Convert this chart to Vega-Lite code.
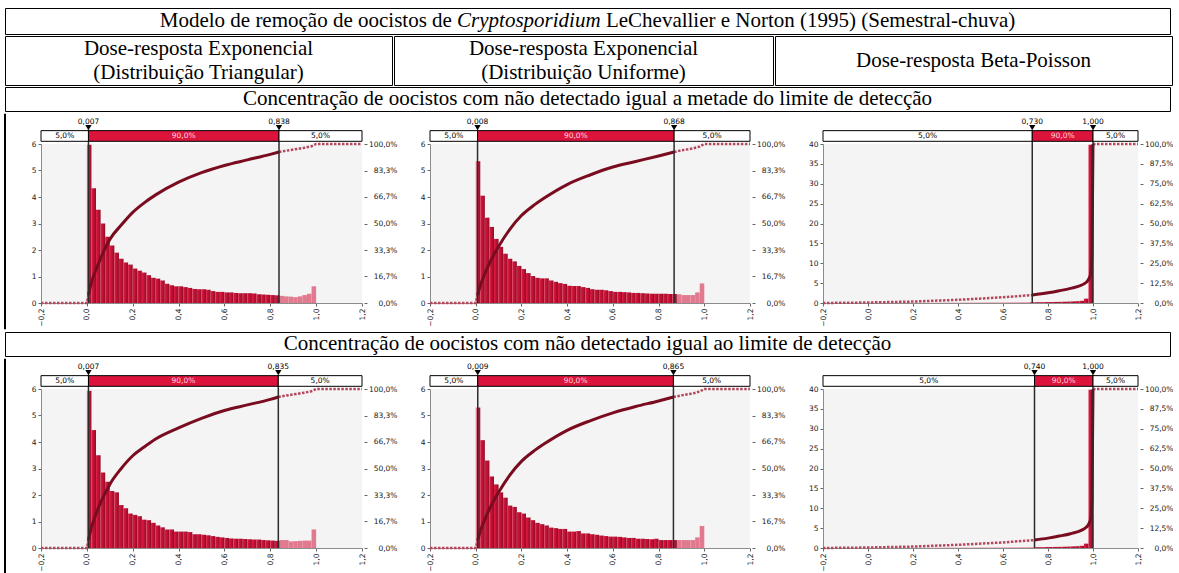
{
  "$schema": "https://vega.github.io/schema/vega-lite/v6.json",
  "padding": {"left": 4, "top": 7, "right": 0, "bottom": 0},
  "columns": 1,
  "align": "none",
  "spacing": 0,
  "config": {
    "view": {"stroke": null},
    "font": "DejaVu Sans",
    "axis": {"labelFont": "DejaVu Sans", "labelFontSize": 7.5, "labelColor": "#1a1a1a", "grid": false, "domainColor": "#8c8c8c", "tickColor": "#666666", "tickSize": 3, "labelPadding": 2},
    "axisX": {"labelAngle": -90, "labelFlush": false, "labelOverlap": false, "labelExpr": "replace(format(datum.value, '.1f'), '.', ',')"},
    "axisLeft": {"labelFlush": false, "labelOverlap": false, "format": "d"},
    "axisRight": {"domain": false, "offset": 2, "labelPadding": 30, "labelAlign": "right", "labelFlush": false, "labelOverlap": false, "labelExpr": "replace(format(datum.value, '.1%'), '.', ',')"}
  },
  "datasets": {
    "hA1": [
      {"a":0,"b":0.007,"d":5.97,"r":"t"},{"a":0.007,"b":0.02,"d":5.97,"r":"m"},{"a":0.02,"b":0.04,"d":4.33,"r":"m"},{"a":0.04,"b":0.06,"d":3.52,"r":"m"},{"a":0.06,"b":0.08,"d":3.0,"r":"m"},{"a":0.08,"b":0.1,"d":2.5,"r":"m"},{"a":0.1,"b":0.12,"d":2.17,"r":"m"},{"a":0.12,"b":0.14,"d":1.9,"r":"m"},{"a":0.14,"b":0.16,"d":1.67,"r":"m"},{"a":0.16,"b":0.18,"d":1.53,"r":"m"},{"a":0.18,"b":0.2,"d":1.45,"r":"m"},
      {"a":0.2,"b":0.22,"d":1.3,"r":"m"},{"a":0.22,"b":0.24,"d":1.22,"r":"m"},{"a":0.24,"b":0.26,"d":1.15,"r":"m"},{"a":0.26,"b":0.28,"d":1.05,"r":"m"},{"a":0.28,"b":0.3,"d":0.95,"r":"m"},{"a":0.3,"b":0.32,"d":0.92,"r":"m"},{"a":0.32,"b":0.34,"d":0.85,"r":"m"},{"a":0.34,"b":0.36,"d":0.73,"r":"m"},{"a":0.36,"b":0.38,"d":0.67,"r":"m"},{"a":0.38,"b":0.4,"d":0.63,"r":"m"},
      {"a":0.4,"b":0.42,"d":0.63,"r":"m"},{"a":0.42,"b":0.44,"d":0.6,"r":"m"},{"a":0.44,"b":0.46,"d":0.57,"r":"m"},{"a":0.46,"b":0.48,"d":0.53,"r":"m"},{"a":0.48,"b":0.5,"d":0.52,"r":"m"},{"a":0.5,"b":0.52,"d":0.52,"r":"m"},{"a":0.52,"b":0.54,"d":0.5,"r":"m"},{"a":0.54,"b":0.56,"d":0.45,"r":"m"},{"a":0.56,"b":0.58,"d":0.42,"r":"m"},{"a":0.58,"b":0.6,"d":0.42,"r":"m"},
      {"a":0.6,"b":0.62,"d":0.4,"r":"m"},{"a":0.62,"b":0.64,"d":0.4,"r":"m"},{"a":0.64,"b":0.66,"d":0.38,"r":"m"},{"a":0.66,"b":0.68,"d":0.37,"r":"m"},{"a":0.68,"b":0.7,"d":0.37,"r":"m"},{"a":0.7,"b":0.72,"d":0.37,"r":"m"},{"a":0.72,"b":0.74,"d":0.36,"r":"m"},{"a":0.74,"b":0.76,"d":0.33,"r":"m"},{"a":0.76,"b":0.78,"d":0.32,"r":"m"},{"a":0.78,"b":0.8,"d":0.31,"r":"m"},
      {"a":0.8,"b":0.82,"d":0.3,"r":"m"},{"a":0.82,"b":0.84,"d":0.29,"r":"m"},{"a":0.84,"b":0.86,"d":0.27,"r":"t"},{"a":0.86,"b":0.88,"d":0.25,"r":"t"},{"a":0.88,"b":0.9,"d":0.24,"r":"t"},{"a":0.9,"b":0.92,"d":0.22,"r":"t"},{"a":0.92,"b":0.94,"d":0.25,"r":"t"},{"a":0.94,"b":0.96,"d":0.3,"r":"t"},{"a":0.96,"b":0.98,"d":0.35,"r":"t"},{"a":0.98,"b":1,"d":0.63,"r":"t"}
    ],
    "hB1": [
      {"a":0,"b":0.008,"d":5.35,"r":"t"},{"a":0.008,"b":0.02,"d":5.35,"r":"m"},{"a":0.02,"b":0.04,"d":4.05,"r":"m"},{"a":0.04,"b":0.06,"d":3.22,"r":"m"},{"a":0.06,"b":0.08,"d":2.87,"r":"m"},{"a":0.08,"b":0.1,"d":2.42,"r":"m"},{"a":0.1,"b":0.12,"d":2.12,"r":"m"},{"a":0.12,"b":0.14,"d":1.86,"r":"m"},{"a":0.14,"b":0.16,"d":1.67,"r":"m"},{"a":0.16,"b":0.18,"d":1.57,"r":"m"},{"a":0.18,"b":0.2,"d":1.4,"r":"m"},
      {"a":0.2,"b":0.22,"d":1.28,"r":"m"},{"a":0.22,"b":0.24,"d":1.13,"r":"m"},{"a":0.24,"b":0.26,"d":1.02,"r":"m"},{"a":0.26,"b":0.28,"d":0.95,"r":"m"},{"a":0.28,"b":0.3,"d":0.93,"r":"m"},{"a":0.3,"b":0.32,"d":0.93,"r":"m"},{"a":0.32,"b":0.34,"d":0.85,"r":"m"},{"a":0.34,"b":0.36,"d":0.8,"r":"m"},{"a":0.36,"b":0.38,"d":0.75,"r":"m"},{"a":0.38,"b":0.4,"d":0.72,"r":"m"},
      {"a":0.4,"b":0.42,"d":0.65,"r":"m"},{"a":0.42,"b":0.44,"d":0.64,"r":"m"},{"a":0.44,"b":0.46,"d":0.64,"r":"m"},{"a":0.46,"b":0.48,"d":0.6,"r":"m"},{"a":0.48,"b":0.5,"d":0.57,"r":"m"},{"a":0.5,"b":0.52,"d":0.52,"r":"m"},{"a":0.52,"b":0.54,"d":0.5,"r":"m"},{"a":0.54,"b":0.56,"d":0.5,"r":"m"},{"a":0.56,"b":0.58,"d":0.48,"r":"m"},{"a":0.58,"b":0.6,"d":0.45,"r":"m"},
      {"a":0.6,"b":0.62,"d":0.42,"r":"m"},{"a":0.62,"b":0.64,"d":0.42,"r":"m"},{"a":0.64,"b":0.66,"d":0.41,"r":"m"},{"a":0.66,"b":0.68,"d":0.4,"r":"m"},{"a":0.68,"b":0.7,"d":0.38,"r":"m"},{"a":0.7,"b":0.72,"d":0.38,"r":"m"},{"a":0.72,"b":0.74,"d":0.37,"r":"m"},{"a":0.74,"b":0.76,"d":0.36,"r":"m"},{"a":0.76,"b":0.78,"d":0.35,"r":"m"},{"a":0.78,"b":0.8,"d":0.35,"r":"m"},
      {"a":0.8,"b":0.82,"d":0.35,"r":"m"},{"a":0.82,"b":0.84,"d":0.35,"r":"m"},{"a":0.84,"b":0.86,"d":0.34,"r":"m"},{"a":0.86,"b":0.88,"d":0.34,"r":"m"},{"a":0.88,"b":0.9,"d":0.33,"r":"t"},{"a":0.9,"b":0.92,"d":0.3,"r":"t"},{"a":0.92,"b":0.94,"d":0.3,"r":"t"},{"a":0.94,"b":0.96,"d":0.3,"r":"t"},{"a":0.96,"b":0.98,"d":0.4,"r":"t"},{"a":0.98,"b":1,"d":0.74,"r":"t"}
    ],
    "hC1": [
      {"a":0,"b":0.02,"d":0.02,"r":"t"},{"a":0.02,"b":0.04,"d":0.02,"r":"t"},{"a":0.04,"b":0.06,"d":0.03,"r":"t"},{"a":0.06,"b":0.08,"d":0.03,"r":"t"},{"a":0.08,"b":0.1,"d":0.03,"r":"t"},{"a":0.1,"b":0.12,"d":0.03,"r":"t"},{"a":0.12,"b":0.14,"d":0.04,"r":"t"},{"a":0.14,"b":0.16,"d":0.04,"r":"t"},{"a":0.16,"b":0.18,"d":0.04,"r":"t"},{"a":0.18,"b":0.2,"d":0.04,"r":"t"},
      {"a":0.2,"b":0.22,"d":0.05,"r":"t"},{"a":0.22,"b":0.24,"d":0.05,"r":"t"},{"a":0.24,"b":0.26,"d":0.05,"r":"t"},{"a":0.26,"b":0.28,"d":0.05,"r":"t"},{"a":0.28,"b":0.3,"d":0.06,"r":"t"},{"a":0.3,"b":0.32,"d":0.06,"r":"t"},{"a":0.32,"b":0.34,"d":0.06,"r":"t"},{"a":0.34,"b":0.36,"d":0.07,"r":"t"},{"a":0.36,"b":0.38,"d":0.07,"r":"t"},{"a":0.38,"b":0.4,"d":0.07,"r":"t"},
      {"a":0.4,"b":0.42,"d":0.08,"r":"t"},{"a":0.42,"b":0.44,"d":0.08,"r":"t"},{"a":0.44,"b":0.46,"d":0.08,"r":"t"},{"a":0.46,"b":0.48,"d":0.09,"r":"t"},{"a":0.48,"b":0.5,"d":0.09,"r":"t"},{"a":0.5,"b":0.52,"d":0.1,"r":"t"},{"a":0.52,"b":0.54,"d":0.1,"r":"t"},{"a":0.54,"b":0.56,"d":0.11,"r":"t"},{"a":0.56,"b":0.58,"d":0.11,"r":"t"},{"a":0.58,"b":0.6,"d":0.12,"r":"t"},
      {"a":0.6,"b":0.62,"d":0.12,"r":"t"},{"a":0.62,"b":0.64,"d":0.13,"r":"t"},{"a":0.64,"b":0.66,"d":0.14,"r":"t"},{"a":0.66,"b":0.68,"d":0.15,"r":"t"},{"a":0.68,"b":0.7,"d":0.16,"r":"t"},{"a":0.7,"b":0.72,"d":0.17,"r":"t"},{"a":0.72,"b":0.74,"d":0.18,"r":"m"},{"a":0.74,"b":0.76,"d":0.2,"r":"m"},{"a":0.76,"b":0.78,"d":0.21,"r":"m"},{"a":0.78,"b":0.8,"d":0.23,"r":"m"},
      {"a":0.8,"b":0.82,"d":0.25,"r":"m"},{"a":0.82,"b":0.84,"d":0.27,"r":"m"},{"a":0.84,"b":0.86,"d":0.29,"r":"m"},{"a":0.86,"b":0.88,"d":0.32,"r":"m"},{"a":0.88,"b":0.9,"d":0.35,"r":"m"},{"a":0.9,"b":0.92,"d":0.4,"r":"m"},{"a":0.92,"b":0.94,"d":0.45,"r":"m"},{"a":0.94,"b":0.96,"d":0.55,"r":"m"},{"a":0.96,"b":0.98,"d":1.1,"r":"m"},{"a":0.98,"b":1,"d":39.8,"r":"m"}
    ],
    "hA2": [
      {"a":0,"b":0.007,"d":5.93,"r":"t"},{"a":0.007,"b":0.02,"d":5.93,"r":"m"},{"a":0.02,"b":0.04,"d":4.45,"r":"m"},{"a":0.04,"b":0.06,"d":3.5,"r":"m"},{"a":0.06,"b":0.08,"d":2.85,"r":"m"},{"a":0.08,"b":0.1,"d":2.5,"r":"m"},{"a":0.1,"b":0.12,"d":2.15,"r":"m"},{"a":0.12,"b":0.14,"d":2.1,"r":"m"},{"a":0.14,"b":0.16,"d":1.62,"r":"m"},{"a":0.16,"b":0.18,"d":1.5,"r":"m"},{"a":0.18,"b":0.2,"d":1.3,"r":"m"},
      {"a":0.2,"b":0.22,"d":1.25,"r":"m"},{"a":0.22,"b":0.24,"d":1.2,"r":"m"},{"a":0.24,"b":0.26,"d":1.07,"r":"m"},{"a":0.26,"b":0.28,"d":1.05,"r":"m"},{"a":0.28,"b":0.3,"d":0.95,"r":"m"},{"a":0.3,"b":0.32,"d":0.85,"r":"m"},{"a":0.32,"b":0.34,"d":0.78,"r":"m"},{"a":0.34,"b":0.36,"d":0.7,"r":"m"},{"a":0.36,"b":0.38,"d":0.7,"r":"m"},{"a":0.38,"b":0.4,"d":0.62,"r":"m"},
      {"a":0.4,"b":0.42,"d":0.62,"r":"m"},{"a":0.42,"b":0.44,"d":0.62,"r":"m"},{"a":0.44,"b":0.46,"d":0.6,"r":"m"},{"a":0.46,"b":0.48,"d":0.52,"r":"m"},{"a":0.48,"b":0.5,"d":0.52,"r":"m"},{"a":0.5,"b":0.52,"d":0.5,"r":"m"},{"a":0.52,"b":0.54,"d":0.48,"r":"m"},{"a":0.54,"b":0.56,"d":0.45,"r":"m"},{"a":0.56,"b":0.58,"d":0.42,"r":"m"},{"a":0.58,"b":0.6,"d":0.4,"r":"m"},
      {"a":0.6,"b":0.62,"d":0.38,"r":"m"},{"a":0.62,"b":0.64,"d":0.36,"r":"m"},{"a":0.64,"b":0.66,"d":0.35,"r":"m"},{"a":0.66,"b":0.68,"d":0.35,"r":"m"},{"a":0.68,"b":0.7,"d":0.34,"r":"m"},{"a":0.7,"b":0.72,"d":0.33,"r":"m"},{"a":0.72,"b":0.74,"d":0.32,"r":"m"},{"a":0.74,"b":0.76,"d":0.32,"r":"m"},{"a":0.76,"b":0.78,"d":0.3,"r":"m"},{"a":0.78,"b":0.8,"d":0.29,"r":"m"},
      {"a":0.8,"b":0.82,"d":0.28,"r":"m"},{"a":0.82,"b":0.84,"d":0.27,"r":"m"},{"a":0.84,"b":0.86,"d":0.3,"r":"t"},{"a":0.86,"b":0.88,"d":0.3,"r":"t"},{"a":0.88,"b":0.9,"d":0.25,"r":"t"},{"a":0.9,"b":0.92,"d":0.26,"r":"t"},{"a":0.92,"b":0.94,"d":0.27,"r":"t"},{"a":0.94,"b":0.96,"d":0.28,"r":"t"},{"a":0.96,"b":0.98,"d":0.28,"r":"t"},{"a":0.98,"b":1,"d":0.7,"r":"t"}
    ],
    "hB2": [
      {"a":0,"b":0.009,"d":5.3,"r":"t"},{"a":0.009,"b":0.02,"d":5.3,"r":"m"},{"a":0.02,"b":0.04,"d":4.07,"r":"m"},{"a":0.04,"b":0.06,"d":3.3,"r":"m"},{"a":0.06,"b":0.08,"d":2.7,"r":"m"},{"a":0.08,"b":0.1,"d":2.4,"r":"m"},{"a":0.1,"b":0.12,"d":2.1,"r":"m"},{"a":0.12,"b":0.14,"d":1.9,"r":"m"},{"a":0.14,"b":0.16,"d":1.6,"r":"m"},{"a":0.16,"b":0.18,"d":1.55,"r":"m"},{"a":0.18,"b":0.2,"d":1.35,"r":"m"},
      {"a":0.2,"b":0.22,"d":1.3,"r":"m"},{"a":0.22,"b":0.24,"d":1.15,"r":"m"},{"a":0.24,"b":0.26,"d":1.05,"r":"m"},{"a":0.26,"b":0.28,"d":0.95,"r":"m"},{"a":0.28,"b":0.3,"d":0.9,"r":"m"},{"a":0.3,"b":0.32,"d":0.85,"r":"m"},{"a":0.32,"b":0.34,"d":0.77,"r":"m"},{"a":0.34,"b":0.36,"d":0.75,"r":"m"},{"a":0.36,"b":0.38,"d":0.72,"r":"m"},{"a":0.38,"b":0.4,"d":0.72,"r":"m"},
      {"a":0.4,"b":0.42,"d":0.62,"r":"m"},{"a":0.42,"b":0.44,"d":0.62,"r":"m"},{"a":0.44,"b":0.46,"d":0.64,"r":"m"},{"a":0.46,"b":0.48,"d":0.55,"r":"m"},{"a":0.48,"b":0.5,"d":0.55,"r":"m"},{"a":0.5,"b":0.52,"d":0.52,"r":"m"},{"a":0.52,"b":0.54,"d":0.5,"r":"m"},{"a":0.54,"b":0.56,"d":0.47,"r":"m"},{"a":0.56,"b":0.58,"d":0.45,"r":"m"},{"a":0.58,"b":0.6,"d":0.43,"r":"m"},
      {"a":0.6,"b":0.62,"d":0.43,"r":"m"},{"a":0.62,"b":0.64,"d":0.42,"r":"m"},{"a":0.64,"b":0.66,"d":0.4,"r":"m"},{"a":0.66,"b":0.68,"d":0.38,"r":"m"},{"a":0.68,"b":0.7,"d":0.38,"r":"m"},{"a":0.7,"b":0.72,"d":0.35,"r":"m"},{"a":0.72,"b":0.74,"d":0.35,"r":"m"},{"a":0.74,"b":0.76,"d":0.34,"r":"m"},{"a":0.76,"b":0.78,"d":0.33,"r":"m"},{"a":0.78,"b":0.8,"d":0.35,"r":"m"},
      {"a":0.8,"b":0.82,"d":0.3,"r":"m"},{"a":0.82,"b":0.84,"d":0.3,"r":"m"},{"a":0.84,"b":0.86,"d":0.3,"r":"m"},{"a":0.86,"b":0.88,"d":0.3,"r":"m"},{"a":0.88,"b":0.9,"d":0.3,"r":"t"},{"a":0.9,"b":0.92,"d":0.3,"r":"t"},{"a":0.92,"b":0.94,"d":0.3,"r":"t"},{"a":0.94,"b":0.96,"d":0.3,"r":"t"},{"a":0.96,"b":0.98,"d":0.4,"r":"t"},{"a":0.98,"b":1,"d":0.83,"r":"t"}
    ],
    "hC2": [
      {"a":0,"b":0.02,"d":0.02,"r":"t"},{"a":0.02,"b":0.04,"d":0.02,"r":"t"},{"a":0.04,"b":0.06,"d":0.03,"r":"t"},{"a":0.06,"b":0.08,"d":0.03,"r":"t"},{"a":0.08,"b":0.1,"d":0.03,"r":"t"},{"a":0.1,"b":0.12,"d":0.03,"r":"t"},{"a":0.12,"b":0.14,"d":0.04,"r":"t"},{"a":0.14,"b":0.16,"d":0.04,"r":"t"},{"a":0.16,"b":0.18,"d":0.04,"r":"t"},{"a":0.18,"b":0.2,"d":0.04,"r":"t"},
      {"a":0.2,"b":0.22,"d":0.05,"r":"t"},{"a":0.22,"b":0.24,"d":0.05,"r":"t"},{"a":0.24,"b":0.26,"d":0.05,"r":"t"},{"a":0.26,"b":0.28,"d":0.05,"r":"t"},{"a":0.28,"b":0.3,"d":0.06,"r":"t"},{"a":0.3,"b":0.32,"d":0.06,"r":"t"},{"a":0.32,"b":0.34,"d":0.06,"r":"t"},{"a":0.34,"b":0.36,"d":0.07,"r":"t"},{"a":0.36,"b":0.38,"d":0.07,"r":"t"},{"a":0.38,"b":0.4,"d":0.07,"r":"t"},
      {"a":0.4,"b":0.42,"d":0.08,"r":"t"},{"a":0.42,"b":0.44,"d":0.08,"r":"t"},{"a":0.44,"b":0.46,"d":0.08,"r":"t"},{"a":0.46,"b":0.48,"d":0.09,"r":"t"},{"a":0.48,"b":0.5,"d":0.09,"r":"t"},{"a":0.5,"b":0.52,"d":0.1,"r":"t"},{"a":0.52,"b":0.54,"d":0.1,"r":"t"},{"a":0.54,"b":0.56,"d":0.11,"r":"t"},{"a":0.56,"b":0.58,"d":0.11,"r":"t"},{"a":0.58,"b":0.6,"d":0.12,"r":"t"},
      {"a":0.6,"b":0.62,"d":0.12,"r":"t"},{"a":0.62,"b":0.64,"d":0.13,"r":"t"},{"a":0.64,"b":0.66,"d":0.14,"r":"t"},{"a":0.66,"b":0.68,"d":0.15,"r":"t"},{"a":0.68,"b":0.7,"d":0.16,"r":"t"},{"a":0.7,"b":0.72,"d":0.17,"r":"t"},{"a":0.72,"b":0.74,"d":0.18,"r":"t"},{"a":0.74,"b":0.76,"d":0.2,"r":"m"},{"a":0.76,"b":0.78,"d":0.21,"r":"m"},{"a":0.78,"b":0.8,"d":0.23,"r":"m"},
      {"a":0.8,"b":0.82,"d":0.25,"r":"m"},{"a":0.82,"b":0.84,"d":0.27,"r":"m"},{"a":0.84,"b":0.86,"d":0.29,"r":"m"},{"a":0.86,"b":0.88,"d":0.32,"r":"m"},{"a":0.88,"b":0.9,"d":0.35,"r":"m"},{"a":0.9,"b":0.92,"d":0.4,"r":"m"},{"a":0.92,"b":0.94,"d":0.45,"r":"m"},{"a":0.94,"b":0.96,"d":0.55,"r":"m"},{"a":0.96,"b":0.98,"d":1.1,"r":"m"},{"a":0.98,"b":1,"d":39.8,"r":"m"}
    ],
    "cA1": [
      {"x":-0.2,"c":0,"r":"lo"},{"x":0,"c":0,"r":"lo"},{"x":0.007,"c":0.05,"r":"lo"},
      {"x":0.007,"c":0.05,"r":"m"},{"x":0.02,"c":0.13,"r":"m"},{"x":0.04,"c":0.21,"r":"m"},{"x":0.06,"c":0.28,"r":"m"},{"x":0.08,"c":0.345,"r":"m"},{"x":0.1,"c":0.4,"r":"m"},{"x":0.15,"c":0.49,"r":"m"},{"x":0.2,"c":0.57,"r":"m"},{"x":0.25,"c":0.63,"r":"m"},{"x":0.3,"c":0.68,"r":"m"},{"x":0.4,"c":0.76,"r":"m"},{"x":0.5,"c":0.82,"r":"m"},{"x":0.6,"c":0.865,"r":"m"},{"x":0.7,"c":0.9,"r":"m"},{"x":0.8,"c":0.935,"r":"m"},{"x":0.838,"c":0.95,"r":"m"},
      {"x":0.838,"c":0.95,"r":"hi"},{"x":0.9,"c":0.965,"r":"hi"},{"x":0.95,"c":0.977,"r":"hi"},{"x":0.98,"c":0.986,"r":"hi"},{"x":1,"c":1,"r":"hi"},{"x":1.2,"c":1,"r":"hi"}
    ],
    "cB1": [
      {"x":-0.2,"c":0,"r":"lo"},{"x":0,"c":0,"r":"lo"},{"x":0.008,"c":0.05,"r":"lo"},
      {"x":0.008,"c":0.05,"r":"m"},{"x":0.02,"c":0.11,"r":"m"},{"x":0.04,"c":0.185,"r":"m"},{"x":0.06,"c":0.25,"r":"m"},{"x":0.08,"c":0.305,"r":"m"},{"x":0.1,"c":0.355,"r":"m"},{"x":0.15,"c":0.465,"r":"m"},{"x":0.2,"c":0.55,"r":"m"},{"x":0.25,"c":0.61,"r":"m"},{"x":0.3,"c":0.66,"r":"m"},{"x":0.4,"c":0.745,"r":"m"},{"x":0.5,"c":0.805,"r":"m"},{"x":0.6,"c":0.855,"r":"m"},{"x":0.7,"c":0.89,"r":"m"},{"x":0.8,"c":0.925,"r":"m"},{"x":0.868,"c":0.95,"r":"m"},
      {"x":0.868,"c":0.95,"r":"hi"},{"x":0.9,"c":0.96,"r":"hi"},{"x":0.95,"c":0.972,"r":"hi"},{"x":0.98,"c":0.984,"r":"hi"},{"x":1,"c":1,"r":"hi"},{"x":1.2,"c":1,"r":"hi"}
    ],
    "cC1": [
      {"x":-0.2,"c":0,"r":"lo"},{"x":0,"c":0.003,"r":"lo"},{"x":0.2,"c":0.009,"r":"lo"},{"x":0.4,"c":0.02,"r":"lo"},{"x":0.6,"c":0.036,"r":"lo"},{"x":0.73,"c":0.05,"r":"lo"},
      {"x":0.73,"c":0.05,"r":"m"},{"x":0.8,"c":0.064,"r":"m"},{"x":0.85,"c":0.077,"r":"m"},{"x":0.9,"c":0.092,"r":"m"},{"x":0.95,"c":0.113,"r":"m"},{"x":0.97,"c":0.13,"r":"m"},{"x":0.98,"c":0.148,"r":"m"},{"x":0.99,"c":0.185,"r":"m"},{"x":0.995,"c":0.3,"r":"m"},{"x":0.998,"c":0.7,"r":"m"},{"x":1,"c":1,"r":"m"},
      {"x":1,"c":1,"r":"hi"},{"x":1.2,"c":1,"r":"hi"}
    ],
    "cA2": [
      {"x":-0.2,"c":0,"r":"lo"},{"x":0,"c":0,"r":"lo"},{"x":0.007,"c":0.05,"r":"lo"},
      {"x":0.007,"c":0.05,"r":"m"},{"x":0.02,"c":0.13,"r":"m"},{"x":0.04,"c":0.215,"r":"m"},{"x":0.06,"c":0.285,"r":"m"},{"x":0.08,"c":0.345,"r":"m"},{"x":0.1,"c":0.4,"r":"m"},{"x":0.15,"c":0.5,"r":"m"},{"x":0.2,"c":0.58,"r":"m"},{"x":0.25,"c":0.635,"r":"m"},{"x":0.3,"c":0.685,"r":"m"},{"x":0.4,"c":0.755,"r":"m"},{"x":0.5,"c":0.815,"r":"m"},{"x":0.6,"c":0.865,"r":"m"},{"x":0.7,"c":0.9,"r":"m"},{"x":0.8,"c":0.935,"r":"m"},{"x":0.835,"c":0.95,"r":"m"},
      {"x":0.835,"c":0.95,"r":"hi"},{"x":0.9,"c":0.966,"r":"hi"},{"x":0.95,"c":0.977,"r":"hi"},{"x":0.98,"c":0.986,"r":"hi"},{"x":1,"c":1,"r":"hi"},{"x":1.2,"c":1,"r":"hi"}
    ],
    "cB2": [
      {"x":-0.2,"c":0,"r":"lo"},{"x":0,"c":0,"r":"lo"},{"x":0.009,"c":0.05,"r":"lo"},
      {"x":0.009,"c":0.05,"r":"m"},{"x":0.02,"c":0.105,"r":"m"},{"x":0.04,"c":0.18,"r":"m"},{"x":0.06,"c":0.245,"r":"m"},{"x":0.08,"c":0.3,"r":"m"},{"x":0.1,"c":0.35,"r":"m"},{"x":0.15,"c":0.46,"r":"m"},{"x":0.2,"c":0.545,"r":"m"},{"x":0.25,"c":0.605,"r":"m"},{"x":0.3,"c":0.655,"r":"m"},{"x":0.4,"c":0.74,"r":"m"},{"x":0.5,"c":0.8,"r":"m"},{"x":0.6,"c":0.85,"r":"m"},{"x":0.7,"c":0.89,"r":"m"},{"x":0.8,"c":0.925,"r":"m"},{"x":0.865,"c":0.95,"r":"m"},
      {"x":0.865,"c":0.95,"r":"hi"},{"x":0.9,"c":0.96,"r":"hi"},{"x":0.95,"c":0.972,"r":"hi"},{"x":0.98,"c":0.984,"r":"hi"},{"x":1,"c":1,"r":"hi"},{"x":1.2,"c":1,"r":"hi"}
    ],
    "cC2": [
      {"x":-0.2,"c":0,"r":"lo"},{"x":0,"c":0.003,"r":"lo"},{"x":0.2,"c":0.009,"r":"lo"},{"x":0.4,"c":0.02,"r":"lo"},{"x":0.6,"c":0.035,"r":"lo"},{"x":0.74,"c":0.05,"r":"lo"},
      {"x":0.74,"c":0.05,"r":"m"},{"x":0.8,"c":0.062,"r":"m"},{"x":0.85,"c":0.075,"r":"m"},{"x":0.9,"c":0.09,"r":"m"},{"x":0.95,"c":0.112,"r":"m"},{"x":0.97,"c":0.13,"r":"m"},{"x":0.98,"c":0.148,"r":"m"},{"x":0.99,"c":0.185,"r":"m"},{"x":0.995,"c":0.3,"r":"m"},{"x":0.998,"c":0.7,"r":"m"},{"x":1,"c":1,"r":"m"},
      {"x":1,"c":1,"r":"hi"},{"x":1.2,"c":1,"r":"hi"}
    ],
    "sA1": [{"lo":-0.2,"hi":0.007,"lab":"5,0%","band":"t"},{"lo":0.007,"hi":0.838,"lab":"90,0%","band":"m"},{"lo":0.838,"hi":1.2,"lab":"5,0%","band":"t"}],
    "sB1": [{"lo":-0.2,"hi":0.008,"lab":"5,0%","band":"t"},{"lo":0.008,"hi":0.868,"lab":"90,0%","band":"m"},{"lo":0.868,"hi":1.2,"lab":"5,0%","band":"t"}],
    "sC1": [{"lo":-0.2,"hi":0.73,"lab":"5,0%","band":"t"},{"lo":0.73,"hi":1.0,"lab":"90,0%","band":"m"},{"lo":1.0,"hi":1.2,"lab":"5,0%","band":"t"}],
    "sA2": [{"lo":-0.2,"hi":0.007,"lab":"5,0%","band":"t"},{"lo":0.007,"hi":0.835,"lab":"90,0%","band":"m"},{"lo":0.835,"hi":1.2,"lab":"5,0%","band":"t"}],
    "sB2": [{"lo":-0.2,"hi":0.009,"lab":"5,0%","band":"t"},{"lo":0.009,"hi":0.865,"lab":"90,0%","band":"m"},{"lo":0.865,"hi":1.2,"lab":"5,0%","band":"t"}],
    "sC2": [{"lo":-0.2,"hi":0.74,"lab":"5,0%","band":"t"},{"lo":0.74,"hi":1.0,"lab":"90,0%","band":"m"},{"lo":1.0,"hi":1.2,"lab":"5,0%","band":"t"}],
    "mA1": [{"x":0.007,"lab":"0,007"},{"x":0.838,"lab":"0,838"}],
    "mB1": [{"x":0.008,"lab":"0,008"},{"x":0.868,"lab":"0,868"}],
    "mC1": [{"x":0.73,"lab":"0,730"},{"x":1.0,"lab":"1,000"}],
    "mA2": [{"x":0.007,"lab":"0,007"},{"x":0.835,"lab":"0,835"}],
    "mB2": [{"x":0.009,"lab":"0,009"},{"x":0.865,"lab":"0,865"}],
    "mC2": [{"x":0.74,"lab":"0,740"},{"x":1.0,"lab":"1,000"}]
  },
  "concat": [
    {
      "width": 1165, "height": 26,
      "view": {"stroke": "black", "strokeWidth": 1},
      "data": {"values": [{"pre": "Modelo de remoção de oocistos de", "gen": "Cryptosporidium", "post": "LeChevallier e Norton (1995) (Semestral-chuva)"}]},
      "layer": [
        {"mark": {"type": "text", "font": "Liberation Serif", "fontSize": 21, "color": "black", "align": "right", "dx": -135.6}, "encoding": {"text": {"field": "pre"}}},
        {"mark": {"type": "text", "font": "Liberation Serif", "fontSize": 21, "color": "black", "fontStyle": "italic", "align": "left", "dx": -130.4}, "encoding": {"text": {"field": "gen"}}},
        {"mark": {"type": "text", "font": "Liberation Serif", "fontSize": 21, "color": "black", "align": "left", "dx": 18.4}, "encoding": {"text": {"field": "post"}}}
      ]
    },
    {
      "spacing": 0,
      "hconcat": [
        {"width": 387, "height": 49, "view": {"stroke": "black", "strokeWidth": 1}, "data": {"values": [{"t": ["Dose-resposta Exponencial", "(Distribuição Triangular)"]}]}, "mark": {"type": "text", "font": "Liberation Serif", "fontSize": 21, "lineHeight": 24, "dy": -12, "color": "black"}, "encoding": {"text": {"field": "t"}}},
        {"width": 379, "height": 49, "view": {"stroke": "black", "strokeWidth": 1}, "data": {"values": [{"t": ["Dose-resposta Exponencial", "(Distribuição Uniforme)"]}]}, "mark": {"type": "text", "font": "Liberation Serif", "fontSize": 21, "lineHeight": 24, "dy": -12, "color": "black"}, "encoding": {"text": {"field": "t"}}},
        {"width": 397, "height": 49, "view": {"stroke": "black", "strokeWidth": 1}, "data": {"values": [{"t": "Dose-resposta Beta-Poisson"}]}, "mark": {"type": "text", "font": "Liberation Serif", "fontSize": 21, "color": "black"}, "encoding": {"text": {"field": "t"}}}
      ]
    },
    {
      "width": 1165, "height": 24,
      "view": {"stroke": "black", "strokeWidth": 1},
      "data": {"values": [{"t": "Concentração de oocistos com não detectado igual a metade do limite de detecção"}]},
      "mark": {"type": "text", "font": "Liberation Serif", "fontSize": 21, "color": "black"},
      "encoding": {"text": {"field": "t"}}
    },
    {
      "spacing": 23,
      "hconcat": [
        {
          "width": 3, "height": 159,
          "data": {"values": [{"side": "left"}]},
          "mark": {"type": "rule", "color": "black", "strokeWidth": 2},
          "encoding": {
            "x": {"datum": 0, "type": "quantitative", "scale": {"domain": [0, 1], "nice": false}, "axis": null},
            "y": {"datum": -0.165, "type": "quantitative", "scale": {"domain": [0, 1], "nice": false}, "axis": null},
            "y2": {"datum": 1.19}
          }
        },
        {
          "width": 321, "height": 159,
          "view": {"fill": "#f4f4f4", "stroke": null},
          "resolve": {"scale": {"y": "independent"}},
          "layer": [
            {
              "data": {"name": "hA1"},
              "encoding": {
                "x": {"field": "a", "type": "quantitative", "title": null, "scale": {"domain": [-0.2, 1.2], "nice": false}, "axis": {"values": [-0.2, 0, 0.2, 0.4, 0.6, 0.8, 1, 1.2], "tickCount": 20}},
                "x2": {"field": "b"},
                "y": {"field": "d", "type": "quantitative", "title": null, "scale": {"domain": [0, 6], "nice": false}, "axis": {"orient": "left", "values": [0, 1, 2, 3, 4, 5, 6], "tickCount": 20, "format": "d", "labelOverlap": false}},
                "y2": {"datum": 0}
              },
              "layer": [
                {"transform": [{"filter": "datum.r === 't'"}], "mark": {"type": "bar", "color": "#e27a8f"}},
                {"transform": [{"filter": "datum.r === 'm'"}], "mark": {"type": "bar", "color": {"gradient": "linear", "x1": 0, "y1": 0, "x2": 1, "y2": 0, "stops": [{"offset": 0, "color": "#e21a42"}, {"offset": 1, "color": "#930b27"}]}}}
              ]
            },
            {
              "layer": [
                {"data": {"name": "cA1"}, "transform": [{"filter": "datum.r !== 'm'"}], "mark": {"type": "line", "color": "#b5475c", "strokeWidth": 2.5, "strokeDash": [2.5, 1.5]}, "encoding": {"x": {"field": "x", "type": "quantitative", "title": null, "scale": {"domain": [-0.2, 1.2], "nice": false}}, "y": {"field": "c", "type": "quantitative", "title": null, "scale": {"domain": [0, 1], "nice": false}, "axis": {"orient": "right", "values": [0, 0.16667, 0.33333, 0.5, 0.66667, 0.83333, 1], "tickCount": 20, "labelOverlap": false}}, "detail": {"field": "r"}}},
                {"data": {"name": "cA1"}, "transform": [{"filter": "datum.r === 'm'"}], "mark": {"type": "line", "color": "#7a0c1f", "strokeWidth": 3, "interpolate": "monotone"}, "encoding": {"x": {"field": "x", "type": "quantitative", "title": null, "scale": {"domain": [-0.2, 1.2], "nice": false}}, "y": {"field": "c", "type": "quantitative", "title": null, "scale": {"domain": [0, 1], "nice": false}}}},
                {"data": {"name": "mA1"}, "mark": {"type": "rule", "color": "#2b2b2b", "strokeWidth": 1.5}, "encoding": {"x": {"field": "x", "type": "quantitative", "title": null, "scale": {"domain": [-0.2, 1.2], "nice": false}}, "y": {"datum": 0, "type": "quantitative", "scale": {"domain": [0, 1], "nice": false}}, "y2": {"datum": 1.09}}},
                {"data": {"name": "sA1"}, "mark": {"type": "rect", "stroke": "black", "strokeWidth": 1}, "encoding": {"x": {"field": "lo", "type": "quantitative", "title": null, "scale": {"domain": [-0.2, 1.2], "nice": false}}, "x2": {"field": "hi"}, "y": {"datum": 1.017, "type": "quantitative", "scale": {"domain": [0, 1], "nice": false}}, "y2": {"datum": 1.084}, "fill": {"condition": {"test": "datum.band === 'm'", "value": "#dc143c"}, "value": "white"}}},
                {"data": {"name": "sA1"}, "transform": [{"calculate": "(datum.lo + datum.hi) / 2", "as": "mid"}], "mark": {"type": "text", "fontSize": 7.5}, "encoding": {"x": {"field": "mid", "type": "quantitative", "title": null, "scale": {"domain": [-0.2, 1.2], "nice": false}}, "y": {"datum": 1.05, "type": "quantitative", "scale": {"domain": [0, 1], "nice": false}}, "text": {"field": "lab"}, "color": {"condition": {"test": "datum.band === 'm'", "value": "#ffd6de"}, "value": "black"}}},
                {"data": {"name": "mA1"}, "mark": {"type": "point", "shape": "triangle-down", "filled": true, "color": "black", "opacity": 1, "size": 40}, "encoding": {"x": {"field": "x", "type": "quantitative", "title": null, "scale": {"domain": [-0.2, 1.2], "nice": false}}, "y": {"datum": 1.103, "type": "quantitative", "scale": {"domain": [0, 1], "nice": false}}}},
                {"data": {"name": "mA1"}, "mark": {"type": "text", "fontSize": 7.5, "color": "black"}, "encoding": {"x": {"field": "x", "type": "quantitative", "title": null, "scale": {"domain": [-0.2, 1.2], "nice": false}}, "y": {"datum": 1.14, "type": "quantitative", "scale": {"domain": [0, 1], "nice": false}}, "text": {"field": "lab"}}}
              ]
            }
          ]
        },
        {
          "width": 320, "height": 159,
          "view": {"fill": "#f4f4f4", "stroke": null},
          "resolve": {"scale": {"y": "independent"}},
          "layer": [
            {
              "data": {"name": "hB1"},
              "encoding": {
                "x": {"field": "a", "type": "quantitative", "title": null, "scale": {"domain": [-0.2, 1.2], "nice": false}, "axis": {"values": [-0.2, 0, 0.2, 0.4, 0.6, 0.8, 1, 1.2], "tickCount": 20}},
                "x2": {"field": "b"},
                "y": {"field": "d", "type": "quantitative", "title": null, "scale": {"domain": [0, 6], "nice": false}, "axis": {"orient": "left", "values": [0, 1, 2, 3, 4, 5, 6], "tickCount": 20, "format": "d", "labelOverlap": false}},
                "y2": {"datum": 0}
              },
              "layer": [
                {"transform": [{"filter": "datum.r === 't'"}], "mark": {"type": "bar", "color": "#e27a8f"}},
                {"transform": [{"filter": "datum.r === 'm'"}], "mark": {"type": "bar", "color": {"gradient": "linear", "x1": 0, "y1": 0, "x2": 1, "y2": 0, "stops": [{"offset": 0, "color": "#e21a42"}, {"offset": 1, "color": "#930b27"}]}}}
              ]
            },
            {
              "layer": [
                {"data": {"name": "cB1"}, "transform": [{"filter": "datum.r !== 'm'"}], "mark": {"type": "line", "color": "#b5475c", "strokeWidth": 2.5, "strokeDash": [2.5, 1.5]}, "encoding": {"x": {"field": "x", "type": "quantitative", "title": null, "scale": {"domain": [-0.2, 1.2], "nice": false}}, "y": {"field": "c", "type": "quantitative", "title": null, "scale": {"domain": [0, 1], "nice": false}, "axis": {"orient": "right", "values": [0, 0.16667, 0.33333, 0.5, 0.66667, 0.83333, 1], "tickCount": 20, "labelOverlap": false}}, "detail": {"field": "r"}}},
                {"data": {"name": "cB1"}, "transform": [{"filter": "datum.r === 'm'"}], "mark": {"type": "line", "color": "#7a0c1f", "strokeWidth": 3, "interpolate": "monotone"}, "encoding": {"x": {"field": "x", "type": "quantitative", "title": null, "scale": {"domain": [-0.2, 1.2], "nice": false}}, "y": {"field": "c", "type": "quantitative", "title": null, "scale": {"domain": [0, 1], "nice": false}}}},
                {"data": {"name": "mB1"}, "mark": {"type": "rule", "color": "#2b2b2b", "strokeWidth": 1.5}, "encoding": {"x": {"field": "x", "type": "quantitative", "title": null, "scale": {"domain": [-0.2, 1.2], "nice": false}}, "y": {"datum": 0, "type": "quantitative", "scale": {"domain": [0, 1], "nice": false}}, "y2": {"datum": 1.09}}},
                {"data": {"name": "sB1"}, "mark": {"type": "rect", "stroke": "black", "strokeWidth": 1}, "encoding": {"x": {"field": "lo", "type": "quantitative", "title": null, "scale": {"domain": [-0.2, 1.2], "nice": false}}, "x2": {"field": "hi"}, "y": {"datum": 1.017, "type": "quantitative", "scale": {"domain": [0, 1], "nice": false}}, "y2": {"datum": 1.084}, "fill": {"condition": {"test": "datum.band === 'm'", "value": "#dc143c"}, "value": "white"}}},
                {"data": {"name": "sB1"}, "transform": [{"calculate": "(datum.lo + datum.hi) / 2", "as": "mid"}], "mark": {"type": "text", "fontSize": 7.5}, "encoding": {"x": {"field": "mid", "type": "quantitative", "title": null, "scale": {"domain": [-0.2, 1.2], "nice": false}}, "y": {"datum": 1.05, "type": "quantitative", "scale": {"domain": [0, 1], "nice": false}}, "text": {"field": "lab"}, "color": {"condition": {"test": "datum.band === 'm'", "value": "#ffd6de"}, "value": "black"}}},
                {"data": {"name": "mB1"}, "mark": {"type": "point", "shape": "triangle-down", "filled": true, "color": "black", "opacity": 1, "size": 40}, "encoding": {"x": {"field": "x", "type": "quantitative", "title": null, "scale": {"domain": [-0.2, 1.2], "nice": false}}, "y": {"datum": 1.103, "type": "quantitative", "scale": {"domain": [0, 1], "nice": false}}}},
                {"data": {"name": "mB1"}, "mark": {"type": "text", "fontSize": 7.5, "color": "black"}, "encoding": {"x": {"field": "x", "type": "quantitative", "title": null, "scale": {"domain": [-0.2, 1.2], "nice": false}}, "y": {"datum": 1.14, "type": "quantitative", "scale": {"domain": [0, 1], "nice": false}}, "text": {"field": "lab"}}}
              ]
            }
          ]
        },
        {
          "width": 315, "height": 159,
          "view": {"fill": "#f4f4f4", "stroke": null},
          "resolve": {"scale": {"y": "independent"}},
          "layer": [
            {
              "data": {"name": "hC1"},
              "encoding": {
                "x": {"field": "a", "type": "quantitative", "title": null, "scale": {"domain": [-0.2, 1.2], "nice": false}, "axis": {"values": [-0.2, 0, 0.2, 0.4, 0.6, 0.8, 1, 1.2], "tickCount": 20}},
                "x2": {"field": "b"},
                "y": {"field": "d", "type": "quantitative", "title": null, "scale": {"domain": [0, 40], "nice": false}, "axis": {"orient": "left", "values": [0, 5, 10, 15, 20, 25, 30, 35, 40], "tickCount": 20, "format": "d", "labelOverlap": false}},
                "y2": {"datum": 0}
              },
              "layer": [
                {"transform": [{"filter": "datum.r === 't'"}], "mark": {"type": "bar", "color": "#e27a8f"}},
                {"transform": [{"filter": "datum.r === 'm'"}], "mark": {"type": "bar", "color": {"gradient": "linear", "x1": 0, "y1": 0, "x2": 1, "y2": 0, "stops": [{"offset": 0, "color": "#e21a42"}, {"offset": 1, "color": "#930b27"}]}}}
              ]
            },
            {
              "layer": [
                {"data": {"name": "cC1"}, "transform": [{"filter": "datum.r !== 'm'"}], "mark": {"type": "line", "color": "#b5475c", "strokeWidth": 2.5, "strokeDash": [2.5, 1.5]}, "encoding": {"x": {"field": "x", "type": "quantitative", "title": null, "scale": {"domain": [-0.2, 1.2], "nice": false}}, "y": {"field": "c", "type": "quantitative", "title": null, "scale": {"domain": [0, 1], "nice": false}, "axis": {"orient": "right", "values": [0, 0.125, 0.25, 0.375, 0.5, 0.625, 0.75, 0.875, 1], "tickCount": 20, "labelOverlap": false}}, "detail": {"field": "r"}}},
                {"data": {"name": "cC1"}, "transform": [{"filter": "datum.r === 'm'"}], "mark": {"type": "line", "color": "#7a0c1f", "strokeWidth": 3, "interpolate": "monotone"}, "encoding": {"x": {"field": "x", "type": "quantitative", "title": null, "scale": {"domain": [-0.2, 1.2], "nice": false}}, "y": {"field": "c", "type": "quantitative", "title": null, "scale": {"domain": [0, 1], "nice": false}}}},
                {"data": {"name": "mC1"}, "mark": {"type": "rule", "color": "#2b2b2b", "strokeWidth": 1.5}, "encoding": {"x": {"field": "x", "type": "quantitative", "title": null, "scale": {"domain": [-0.2, 1.2], "nice": false}}, "y": {"datum": 0, "type": "quantitative", "scale": {"domain": [0, 1], "nice": false}}, "y2": {"datum": 1.09}}},
                {"data": {"name": "sC1"}, "mark": {"type": "rect", "stroke": "black", "strokeWidth": 1}, "encoding": {"x": {"field": "lo", "type": "quantitative", "title": null, "scale": {"domain": [-0.2, 1.2], "nice": false}}, "x2": {"field": "hi"}, "y": {"datum": 1.017, "type": "quantitative", "scale": {"domain": [0, 1], "nice": false}}, "y2": {"datum": 1.084}, "fill": {"condition": {"test": "datum.band === 'm'", "value": "#dc143c"}, "value": "white"}}},
                {"data": {"name": "sC1"}, "transform": [{"calculate": "(datum.lo + datum.hi) / 2", "as": "mid"}], "mark": {"type": "text", "fontSize": 7.5}, "encoding": {"x": {"field": "mid", "type": "quantitative", "title": null, "scale": {"domain": [-0.2, 1.2], "nice": false}}, "y": {"datum": 1.05, "type": "quantitative", "scale": {"domain": [0, 1], "nice": false}}, "text": {"field": "lab"}, "color": {"condition": {"test": "datum.band === 'm'", "value": "#ffd6de"}, "value": "black"}}},
                {"data": {"name": "mC1"}, "mark": {"type": "point", "shape": "triangle-down", "filled": true, "color": "black", "opacity": 1, "size": 40}, "encoding": {"x": {"field": "x", "type": "quantitative", "title": null, "scale": {"domain": [-0.2, 1.2], "nice": false}}, "y": {"datum": 1.103, "type": "quantitative", "scale": {"domain": [0, 1], "nice": false}}}},
                {"data": {"name": "mC1"}, "mark": {"type": "text", "fontSize": 7.5, "color": "black"}, "encoding": {"x": {"field": "x", "type": "quantitative", "title": null, "scale": {"domain": [-0.2, 1.2], "nice": false}}, "y": {"datum": 1.14, "type": "quantitative", "scale": {"domain": [0, 1], "nice": false}}, "text": {"field": "lab"}}}
              ]
            }
          ]
        }
      ]
    },
    {
      "width": 1165, "height": 24,
      "view": {"stroke": "black", "strokeWidth": 1},
      "data": {"values": [{"t": "Concentração de oocistos com não detectado igual ao limite de detecção"}]},
      "mark": {"type": "text", "font": "Liberation Serif", "fontSize": 21, "color": "black"},
      "encoding": {"text": {"field": "t"}}
    },
    {
      "spacing": 23,
      "hconcat": [
        {
          "width": 3, "height": 159,
          "data": {"values": [{"side": "left"}]},
          "mark": {"type": "rule", "color": "black", "strokeWidth": 2},
          "encoding": {
            "x": {"datum": 0, "type": "quantitative", "scale": {"domain": [0, 1], "nice": false}, "axis": null},
            "y": {"datum": -0.165, "type": "quantitative", "scale": {"domain": [0, 1], "nice": false}, "axis": null},
            "y2": {"datum": 1.19}
          }
        },
        {
          "width": 321, "height": 159,
          "view": {"fill": "#f4f4f4", "stroke": null},
          "resolve": {"scale": {"y": "independent"}},
          "layer": [
            {
              "data": {"name": "hA2"},
              "encoding": {
                "x": {"field": "a", "type": "quantitative", "title": null, "scale": {"domain": [-0.2, 1.2], "nice": false}, "axis": {"values": [-0.2, 0, 0.2, 0.4, 0.6, 0.8, 1, 1.2], "tickCount": 20}},
                "x2": {"field": "b"},
                "y": {"field": "d", "type": "quantitative", "title": null, "scale": {"domain": [0, 6], "nice": false}, "axis": {"orient": "left", "values": [0, 1, 2, 3, 4, 5, 6], "tickCount": 20, "format": "d", "labelOverlap": false}},
                "y2": {"datum": 0}
              },
              "layer": [
                {"transform": [{"filter": "datum.r === 't'"}], "mark": {"type": "bar", "color": "#e27a8f"}},
                {"transform": [{"filter": "datum.r === 'm'"}], "mark": {"type": "bar", "color": {"gradient": "linear", "x1": 0, "y1": 0, "x2": 1, "y2": 0, "stops": [{"offset": 0, "color": "#e21a42"}, {"offset": 1, "color": "#930b27"}]}}}
              ]
            },
            {
              "layer": [
                {"data": {"name": "cA2"}, "transform": [{"filter": "datum.r !== 'm'"}], "mark": {"type": "line", "color": "#b5475c", "strokeWidth": 2.5, "strokeDash": [2.5, 1.5]}, "encoding": {"x": {"field": "x", "type": "quantitative", "title": null, "scale": {"domain": [-0.2, 1.2], "nice": false}}, "y": {"field": "c", "type": "quantitative", "title": null, "scale": {"domain": [0, 1], "nice": false}, "axis": {"orient": "right", "values": [0, 0.16667, 0.33333, 0.5, 0.66667, 0.83333, 1], "tickCount": 20, "labelOverlap": false}}, "detail": {"field": "r"}}},
                {"data": {"name": "cA2"}, "transform": [{"filter": "datum.r === 'm'"}], "mark": {"type": "line", "color": "#7a0c1f", "strokeWidth": 3, "interpolate": "monotone"}, "encoding": {"x": {"field": "x", "type": "quantitative", "title": null, "scale": {"domain": [-0.2, 1.2], "nice": false}}, "y": {"field": "c", "type": "quantitative", "title": null, "scale": {"domain": [0, 1], "nice": false}}}},
                {"data": {"name": "mA2"}, "mark": {"type": "rule", "color": "#2b2b2b", "strokeWidth": 1.5}, "encoding": {"x": {"field": "x", "type": "quantitative", "title": null, "scale": {"domain": [-0.2, 1.2], "nice": false}}, "y": {"datum": 0, "type": "quantitative", "scale": {"domain": [0, 1], "nice": false}}, "y2": {"datum": 1.09}}},
                {"data": {"name": "sA2"}, "mark": {"type": "rect", "stroke": "black", "strokeWidth": 1}, "encoding": {"x": {"field": "lo", "type": "quantitative", "title": null, "scale": {"domain": [-0.2, 1.2], "nice": false}}, "x2": {"field": "hi"}, "y": {"datum": 1.017, "type": "quantitative", "scale": {"domain": [0, 1], "nice": false}}, "y2": {"datum": 1.084}, "fill": {"condition": {"test": "datum.band === 'm'", "value": "#dc143c"}, "value": "white"}}},
                {"data": {"name": "sA2"}, "transform": [{"calculate": "(datum.lo + datum.hi) / 2", "as": "mid"}], "mark": {"type": "text", "fontSize": 7.5}, "encoding": {"x": {"field": "mid", "type": "quantitative", "title": null, "scale": {"domain": [-0.2, 1.2], "nice": false}}, "y": {"datum": 1.05, "type": "quantitative", "scale": {"domain": [0, 1], "nice": false}}, "text": {"field": "lab"}, "color": {"condition": {"test": "datum.band === 'm'", "value": "#ffd6de"}, "value": "black"}}},
                {"data": {"name": "mA2"}, "mark": {"type": "point", "shape": "triangle-down", "filled": true, "color": "black", "opacity": 1, "size": 40}, "encoding": {"x": {"field": "x", "type": "quantitative", "title": null, "scale": {"domain": [-0.2, 1.2], "nice": false}}, "y": {"datum": 1.103, "type": "quantitative", "scale": {"domain": [0, 1], "nice": false}}}},
                {"data": {"name": "mA2"}, "mark": {"type": "text", "fontSize": 7.5, "color": "black"}, "encoding": {"x": {"field": "x", "type": "quantitative", "title": null, "scale": {"domain": [-0.2, 1.2], "nice": false}}, "y": {"datum": 1.14, "type": "quantitative", "scale": {"domain": [0, 1], "nice": false}}, "text": {"field": "lab"}}}
              ]
            }
          ]
        },
        {
          "width": 320, "height": 159,
          "view": {"fill": "#f4f4f4", "stroke": null},
          "resolve": {"scale": {"y": "independent"}},
          "layer": [
            {
              "data": {"name": "hB2"},
              "encoding": {
                "x": {"field": "a", "type": "quantitative", "title": null, "scale": {"domain": [-0.2, 1.2], "nice": false}, "axis": {"values": [-0.2, 0, 0.2, 0.4, 0.6, 0.8, 1, 1.2], "tickCount": 20}},
                "x2": {"field": "b"},
                "y": {"field": "d", "type": "quantitative", "title": null, "scale": {"domain": [0, 6], "nice": false}, "axis": {"orient": "left", "values": [0, 1, 2, 3, 4, 5, 6], "tickCount": 20, "format": "d", "labelOverlap": false}},
                "y2": {"datum": 0}
              },
              "layer": [
                {"transform": [{"filter": "datum.r === 't'"}], "mark": {"type": "bar", "color": "#e27a8f"}},
                {"transform": [{"filter": "datum.r === 'm'"}], "mark": {"type": "bar", "color": {"gradient": "linear", "x1": 0, "y1": 0, "x2": 1, "y2": 0, "stops": [{"offset": 0, "color": "#e21a42"}, {"offset": 1, "color": "#930b27"}]}}}
              ]
            },
            {
              "layer": [
                {"data": {"name": "cB2"}, "transform": [{"filter": "datum.r !== 'm'"}], "mark": {"type": "line", "color": "#b5475c", "strokeWidth": 2.5, "strokeDash": [2.5, 1.5]}, "encoding": {"x": {"field": "x", "type": "quantitative", "title": null, "scale": {"domain": [-0.2, 1.2], "nice": false}}, "y": {"field": "c", "type": "quantitative", "title": null, "scale": {"domain": [0, 1], "nice": false}, "axis": {"orient": "right", "values": [0, 0.16667, 0.33333, 0.5, 0.66667, 0.83333, 1], "tickCount": 20, "labelOverlap": false}}, "detail": {"field": "r"}}},
                {"data": {"name": "cB2"}, "transform": [{"filter": "datum.r === 'm'"}], "mark": {"type": "line", "color": "#7a0c1f", "strokeWidth": 3, "interpolate": "monotone"}, "encoding": {"x": {"field": "x", "type": "quantitative", "title": null, "scale": {"domain": [-0.2, 1.2], "nice": false}}, "y": {"field": "c", "type": "quantitative", "title": null, "scale": {"domain": [0, 1], "nice": false}}}},
                {"data": {"name": "mB2"}, "mark": {"type": "rule", "color": "#2b2b2b", "strokeWidth": 1.5}, "encoding": {"x": {"field": "x", "type": "quantitative", "title": null, "scale": {"domain": [-0.2, 1.2], "nice": false}}, "y": {"datum": 0, "type": "quantitative", "scale": {"domain": [0, 1], "nice": false}}, "y2": {"datum": 1.09}}},
                {"data": {"name": "sB2"}, "mark": {"type": "rect", "stroke": "black", "strokeWidth": 1}, "encoding": {"x": {"field": "lo", "type": "quantitative", "title": null, "scale": {"domain": [-0.2, 1.2], "nice": false}}, "x2": {"field": "hi"}, "y": {"datum": 1.017, "type": "quantitative", "scale": {"domain": [0, 1], "nice": false}}, "y2": {"datum": 1.084}, "fill": {"condition": {"test": "datum.band === 'm'", "value": "#dc143c"}, "value": "white"}}},
                {"data": {"name": "sB2"}, "transform": [{"calculate": "(datum.lo + datum.hi) / 2", "as": "mid"}], "mark": {"type": "text", "fontSize": 7.5}, "encoding": {"x": {"field": "mid", "type": "quantitative", "title": null, "scale": {"domain": [-0.2, 1.2], "nice": false}}, "y": {"datum": 1.05, "type": "quantitative", "scale": {"domain": [0, 1], "nice": false}}, "text": {"field": "lab"}, "color": {"condition": {"test": "datum.band === 'm'", "value": "#ffd6de"}, "value": "black"}}},
                {"data": {"name": "mB2"}, "mark": {"type": "point", "shape": "triangle-down", "filled": true, "color": "black", "opacity": 1, "size": 40}, "encoding": {"x": {"field": "x", "type": "quantitative", "title": null, "scale": {"domain": [-0.2, 1.2], "nice": false}}, "y": {"datum": 1.103, "type": "quantitative", "scale": {"domain": [0, 1], "nice": false}}}},
                {"data": {"name": "mB2"}, "mark": {"type": "text", "fontSize": 7.5, "color": "black"}, "encoding": {"x": {"field": "x", "type": "quantitative", "title": null, "scale": {"domain": [-0.2, 1.2], "nice": false}}, "y": {"datum": 1.14, "type": "quantitative", "scale": {"domain": [0, 1], "nice": false}}, "text": {"field": "lab"}}}
              ]
            }
          ]
        },
        {
          "width": 315, "height": 159,
          "view": {"fill": "#f4f4f4", "stroke": null},
          "resolve": {"scale": {"y": "independent"}},
          "layer": [
            {
              "data": {"name": "hC2"},
              "encoding": {
                "x": {"field": "a", "type": "quantitative", "title": null, "scale": {"domain": [-0.2, 1.2], "nice": false}, "axis": {"values": [-0.2, 0, 0.2, 0.4, 0.6, 0.8, 1, 1.2], "tickCount": 20}},
                "x2": {"field": "b"},
                "y": {"field": "d", "type": "quantitative", "title": null, "scale": {"domain": [0, 40], "nice": false}, "axis": {"orient": "left", "values": [0, 5, 10, 15, 20, 25, 30, 35, 40], "tickCount": 20, "format": "d", "labelOverlap": false}},
                "y2": {"datum": 0}
              },
              "layer": [
                {"transform": [{"filter": "datum.r === 't'"}], "mark": {"type": "bar", "color": "#e27a8f"}},
                {"transform": [{"filter": "datum.r === 'm'"}], "mark": {"type": "bar", "color": {"gradient": "linear", "x1": 0, "y1": 0, "x2": 1, "y2": 0, "stops": [{"offset": 0, "color": "#e21a42"}, {"offset": 1, "color": "#930b27"}]}}}
              ]
            },
            {
              "layer": [
                {"data": {"name": "cC2"}, "transform": [{"filter": "datum.r !== 'm'"}], "mark": {"type": "line", "color": "#b5475c", "strokeWidth": 2.5, "strokeDash": [2.5, 1.5]}, "encoding": {"x": {"field": "x", "type": "quantitative", "title": null, "scale": {"domain": [-0.2, 1.2], "nice": false}}, "y": {"field": "c", "type": "quantitative", "title": null, "scale": {"domain": [0, 1], "nice": false}, "axis": {"orient": "right", "values": [0, 0.125, 0.25, 0.375, 0.5, 0.625, 0.75, 0.875, 1], "tickCount": 20, "labelOverlap": false}}, "detail": {"field": "r"}}},
                {"data": {"name": "cC2"}, "transform": [{"filter": "datum.r === 'm'"}], "mark": {"type": "line", "color": "#7a0c1f", "strokeWidth": 3, "interpolate": "monotone"}, "encoding": {"x": {"field": "x", "type": "quantitative", "title": null, "scale": {"domain": [-0.2, 1.2], "nice": false}}, "y": {"field": "c", "type": "quantitative", "title": null, "scale": {"domain": [0, 1], "nice": false}}}},
                {"data": {"name": "mC2"}, "mark": {"type": "rule", "color": "#2b2b2b", "strokeWidth": 1.5}, "encoding": {"x": {"field": "x", "type": "quantitative", "title": null, "scale": {"domain": [-0.2, 1.2], "nice": false}}, "y": {"datum": 0, "type": "quantitative", "scale": {"domain": [0, 1], "nice": false}}, "y2": {"datum": 1.09}}},
                {"data": {"name": "sC2"}, "mark": {"type": "rect", "stroke": "black", "strokeWidth": 1}, "encoding": {"x": {"field": "lo", "type": "quantitative", "title": null, "scale": {"domain": [-0.2, 1.2], "nice": false}}, "x2": {"field": "hi"}, "y": {"datum": 1.017, "type": "quantitative", "scale": {"domain": [0, 1], "nice": false}}, "y2": {"datum": 1.084}, "fill": {"condition": {"test": "datum.band === 'm'", "value": "#dc143c"}, "value": "white"}}},
                {"data": {"name": "sC2"}, "transform": [{"calculate": "(datum.lo + datum.hi) / 2", "as": "mid"}], "mark": {"type": "text", "fontSize": 7.5}, "encoding": {"x": {"field": "mid", "type": "quantitative", "title": null, "scale": {"domain": [-0.2, 1.2], "nice": false}}, "y": {"datum": 1.05, "type": "quantitative", "scale": {"domain": [0, 1], "nice": false}}, "text": {"field": "lab"}, "color": {"condition": {"test": "datum.band === 'm'", "value": "#ffd6de"}, "value": "black"}}},
                {"data": {"name": "mC2"}, "mark": {"type": "point", "shape": "triangle-down", "filled": true, "color": "black", "opacity": 1, "size": 40}, "encoding": {"x": {"field": "x", "type": "quantitative", "title": null, "scale": {"domain": [-0.2, 1.2], "nice": false}}, "y": {"datum": 1.103, "type": "quantitative", "scale": {"domain": [0, 1], "nice": false}}}},
                {"data": {"name": "mC2"}, "mark": {"type": "text", "fontSize": 7.5, "color": "black"}, "encoding": {"x": {"field": "x", "type": "quantitative", "title": null, "scale": {"domain": [-0.2, 1.2], "nice": false}}, "y": {"datum": 1.14, "type": "quantitative", "scale": {"domain": [0, 1], "nice": false}}, "text": {"field": "lab"}}}
              ]
            }
          ]
        }
      ]
    }
  ]
}
